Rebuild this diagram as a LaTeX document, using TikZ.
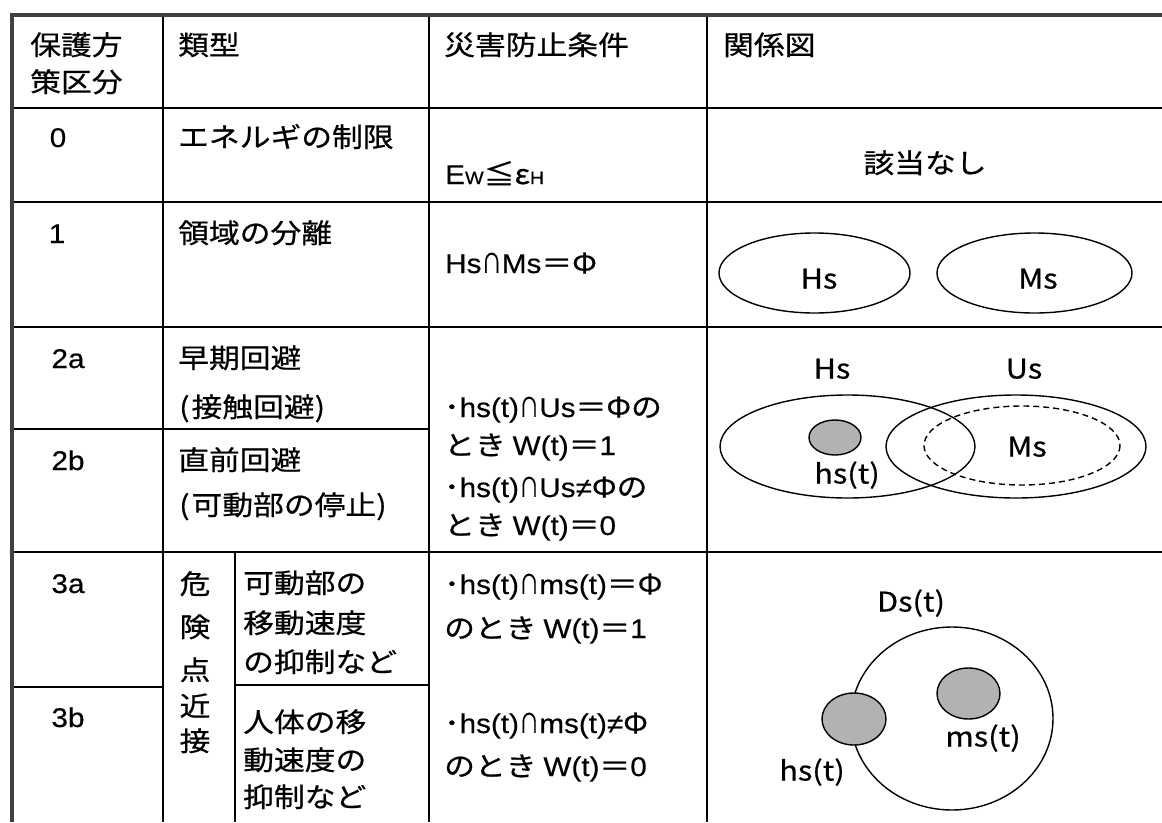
\documentclass[tikz,border=0pt]{standalone}
\usepackage{fontspec}
\setmainfont[FakeStretch=1.14,FakeBold=0.6]{Noto Sans CJK JP}
\newfontfamily\latf[FakeStretch=1.1,FakeBold=0.4]{Liberation Sans}
\newcommand\lf[1]{{\latf #1}}
\newcommand\capn{\scalebox{0.66}[1]{∩}}
\newcommand\fsz{\fontsize{27pt}{32pt}\selectfont}
\newcommand\smallfs{\fontsize{18pt}{20pt}\selectfont}
\begin{document}
\begin{tikzpicture}[x=1pt,y=-1pt,
  border/.style={line width=3.4pt, draw=black!75},
  rule/.style={line width=2.2pt, draw=black},
  txt/.style={anchor=west, inner sep=0pt, font=\fsz, text height=23pt, text depth=3pt},
  ctr/.style={anchor=center, inner sep=0pt, font=\fsz, text height=23pt, text depth=3pt},
  lbl/.style={anchor=center, inner sep=0pt, font=\fsz, text height=20pt, text depth=3pt},
  outl/.style={line width=1.4pt, draw=black},
  graydot/.style={line width=1.4pt, draw=black, fill=black!30}]
\useasboundingbox (0,0) rectangle (1162,822);
\fill[white] (0,0) rectangle (1162,822);
% ---- table rules ----
\draw[rule] (12,108) -- (1162,108);
\draw[rule] (12,202) -- (1162,202);
\draw[rule] (12,327) -- (1162,327);
\draw[rule] (12,429) -- (429,429);
\draw[rule] (12,552) -- (1162,552);
\draw[rule] (12,687) -- (163,687);
\draw[rule] (235,685) -- (429,685);
\draw[rule] (163,15) -- (163,822);
\draw[rule] (429,15) -- (429,822);
\draw[rule] (707,15) -- (707,822);
\draw[rule] (235,552) -- (235,822);
\draw[border] (12,15) -- (1162,15);
\draw[border] (12,13.3) -- (12,822);
% ---- header ----
\node[txt] (h1a) at (30,45) {保護方};
\node[txt] (h1b) at (30,82) {策区分};
\node[txt] (h2) at (178,45) {類型};
\node[txt] (h3) at (444,45) {災害防止条件};
\node[txt] (h4) at (723,45) {関係図};
% ---- row 0 ----
\node[ctr] (n0) at (58,137) {\lf{0}};
\node[txt] (t0) at (178,137) {エネルギの制限};
\node[txt] (c0) at (445,174) {\lf{E{\smallfs W}}≦ε\lf{\smallfs H}};
\node[ctr] (d0) at (925,163) {該当なし};
% ---- row 1 ----
\node[ctr] (n1) at (57,233) {\lf{1}};
\node[txt] (t1) at (178,233) {領域の分離};
\node[txt] (c1) at (445,263) {\lf{Hs}\capn\lf{Ms}＝Φ};
\draw[outl] (814.5,273) ellipse [x radius=95.5, y radius=40];
\draw[outl] (1034.5,273) ellipse [x radius=97.5, y radius=40];
\node[lbl] (l1a) at (819,280) {Hs};
\node[lbl] (l1b) at (1038,280) {Ms};
% ---- row 2 ----
\node[ctr] (n2a) at (68,358) {\lf{2a}};
\node[txt] (t2a1) at (178,358) {早期回避};
\node[txt] (t2a2) at (179,407) {(\hspace{2pt}接触回避)};
\node[ctr] (n2b) at (68,460) {\lf{2b}};
\node[txt] (t2b1) at (178,460) {直前回避};
\node[txt] (t2b2) at (179,505) {(\hspace{2pt}可動部の停止)};
\node[txt] (c2a) at (444,407) {･\lf{hs(t)}\capn\lf{Us}＝Φの};
\node[txt] (c2b) at (444,445) {とき \lf{W(t)}＝\lf{1}};
\node[txt] (c2c) at (444,487) {･\lf{hs(t)}\capn\lf{Us≠}Φの};
\node[txt] (c2d) at (444,525) {とき \lf{W(t)}＝\lf{0}};
\draw[outl] (847.5,446.5) ellipse [x radius=127.5, y radius=51.5];
\draw[outl] (1016,446.5) ellipse [x radius=130, y radius=51.5];
\draw[outl, dash pattern=on 6pt off 4pt] (1022,445.5) ellipse [x radius=98, y radius=39.5];
\draw[graydot] (835,437.5) ellipse [x radius=26, y radius=17.5];
\node[lbl] (l2hs) at (832,370) {Hs};
\node[lbl] (l2us) at (1024,370) {Us};
\node[lbl] (l2h) at (847,475) {hs(t)};
\node[lbl] (l2m) at (1027,448) {Ms};
% ---- row 3 ----
\node[ctr] (n3a) at (68,583) {\lf{3a}};
\node[ctr] (n3b) at (68,717) {\lf{3b}};
\node[ctr] (v1) at (195,584) {危};
\node[ctr] (v2) at (195,627) {険};
\node[ctr] (v3) at (195,670) {点};
\node[ctr] (v4) at (195,706) {近};
\node[ctr] (v5) at (195,741) {接};
\node[txt] (t3a1) at (243,583) {可動部の};
\node[txt] (t3a2) at (243,623) {移動速度};
\node[txt] (t3a3) at (243,662) {の抑制など};
\node[txt] (t3b1) at (243,722) {人体の移};
\node[txt] (t3b2) at (243,760) {動速度の};
\node[txt] (t3b3) at (243,797) {抑制など};
\node[txt] (c3a) at (444,584) {･\lf{hs(t)}\capn\lf{ms(t)}＝Φ};
\node[txt] (c3b) at (444,628) {のとき \lf{W(t)}＝\lf{1}};
\node[txt] (c3c) at (444,723) {･\lf{hs(t)}\capn\lf{ms(t)≠}Φ};
\node[txt] (c3d) at (444,766) {のとき \lf{W(t)}＝\lf{0}};
\draw[outl] (952,718.5) ellipse [x radius=101, y radius=91.5];
\draw[graydot] (854,719) ellipse [x radius=32, y radius=26];
\draw[graydot] (968.5,693.5) ellipse [x radius=31.5, y radius=25.5];
\node[lbl] (l3d) at (911,603) {Ds(t)};
\node[lbl] (l3m) at (983,738) {ms(t)};
\node[lbl] (l3h) at (812,772) {hs(t)};
\end{tikzpicture}
\end{document}
